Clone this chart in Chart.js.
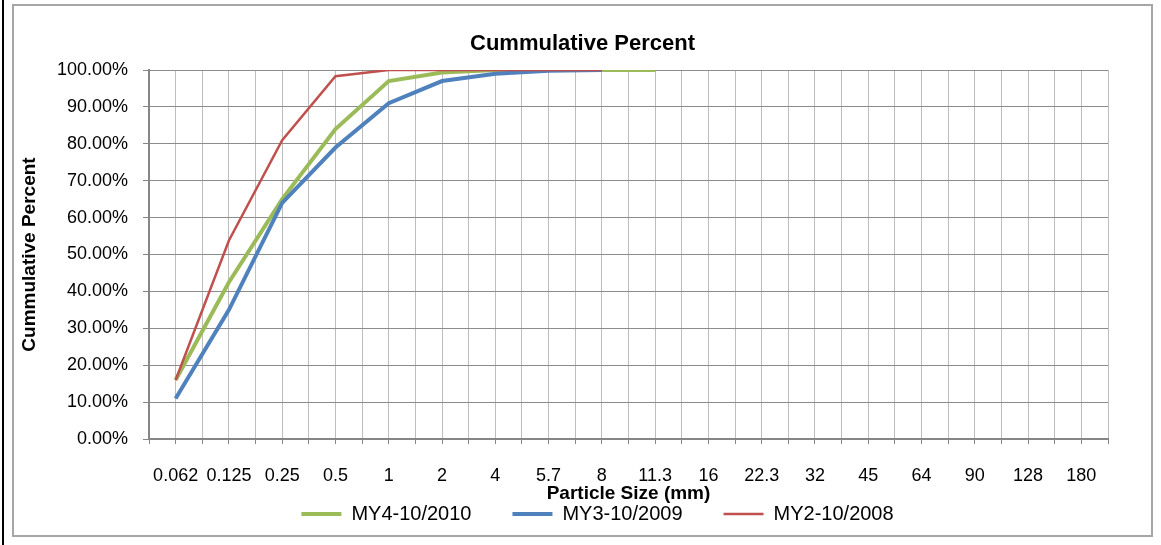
<!DOCTYPE html>
<html>
<head>
<meta charset="utf-8">
<script src="https://cdn.jsdelivr.net/npm/chart.js@4"></script>
<style>
  body{ margin:0; background:#fff; }
  #sheet-edge{ position:absolute; left:2px; top:0; width:2px; height:545px; background:#000; }
  #frame{ position:absolute; left:12px; top:4px; width:1137px; height:529px; border:2px solid #a6a6a6; background:#fff; }
  #frame canvas{ display:block; }
</style>
</head>
<body>
<div id="sheet-edge"></div>
<div id="frame"><canvas id="chart" width="1137" height="529"></canvas></div>
<script>
const sizes = ["0.062","0.125","0.25","0.5","1","2","4","5.7","8","11.3","16","22.3","32","45","64","90","128","180"];
const my4 = [16, 42.5, 65, 84, 97, 99.3, 100, 100, 100, 100];
const my3 = [11, 35, 64, 79, 91, 97, 99, 99.8, 100];
const my2 = [16, 53.8, 81, 98.3, 100, 100, 100, 100, 100];
const yTicks = [0, 10, 20, 30, 40, 50, 60, 70, 80, 90, 100];

const FONT = "'Liberation Sans', Arial, sans-serif";

function points(values){
  return values.map((v, i) => ({x: i, y: v}));
}

function series(label, values, color, width, order){
  return {
    label,
    data: points(values),
    borderColor: color,
    backgroundColor: color,
    borderWidth: width,
    pointRadius: 0,
    tension: 0,
    order
  };
}

// legend spacing needs a big label padding, so it is laid out small and its top pulled up
// (bottom stays put so the legend's own clip box still holds the items)
const legendNudge = {
  id: "legendNudge",
  afterLayout(chart){
    const lg = chart.legend;
    lg.top -= 42.4;
    lg.left += 15;
    lg.right += 15;
  }
};

const ctx = document.getElementById("chart").getContext("2d");
new Chart(ctx, {
  type: "line",
  data: {
    datasets: [
      series("MY4-10/2010", my4, "#9bbb59", 4, 3),
      series("MY3-10/2009", my3, "#4f81bd", 4, 2),
      series("MY2-10/2008", my2, "#c0504d", 2.5, 1)
    ]
  },
  plugins: [legendNudge],
  options: {
    responsive: false,
    animation: false,
    layout: { padding: { left: 0, right: 0, top: 0, bottom: 1.5 } },
    plugins: {
      title: {
        display: true,
        text: "Cummulative Percent",
        color: "#000",
        font: { family: FONT, size: 22, weight: "bold" },
        padding: { top: 24.8, bottom: 12.8 }
      },
      legend: {
        position: "bottom",
        maxHeight: 28.1,
        labels: {
          usePointStyle: true,
          pointStyle: "line",
          pointStyleWidth: 40,
          padding: 41,
          color: "#000",
          font: { family: FONT, size: 20 },
          sort: (a, b) => a.datasetIndex - b.datasetIndex
        }
      },
      tooltip: { enabled: false }
    },
    scales: {
      x: {
        type: "linear",
        min: -0.5,
        max: sizes.length - 0.5,
        afterBuildTicks: (scale) => {
          const ticks = [];
          sizes.forEach((s, i) => {
            ticks.push({value: i - 0.5});
            ticks.push({value: i});
          });
          ticks.push({value: sizes.length - 0.5});
          scale.ticks = ticks;
        },
        afterFit: (scale) => { scale.height = 66.4; },
        ticks: {
          autoSkip: false,
          maxRotation: 0,
          padding: 21,
          color: "#000",
          font: { family: FONT, size: 18 },
          callback: (v) => Number.isInteger(v) ? sizes[v] : ""
        },
        grid: { color: "#bdbdbd", lineWidth: 1, tickLength: 5, tickColor: "#868686" },
        border: { color: "#868686", width: 2 },
        title: {
          display: true,
          text: "Particle Size (mm)",
          color: "#000",
          font: { family: FONT, size: 19, weight: "bold" },
          padding: { top: 0, bottom: 0 }
        }
      },
      y: {
        min: 0,
        max: 100,
        afterBuildTicks: (scale) => { scale.ticks = yTicks.map(v => ({value: v})); },
        afterFit: (scale) => { scale.width = 135; },
        ticks: {
          padding: 15,
          color: "#000",
          font: { family: FONT, size: 18 },
          callback: (v) => v.toFixed(2) + "%"
        },
        grid: { color: "#8c8c8c", lineWidth: 1, tickLength: 6, tickColor: "#868686" },
        border: { color: "#868686", width: 2 },
        title: {
          display: true,
          text: "Cummulative Percent",
          color: "#000",
          font: { family: FONT, size: 19, weight: "bold" },
          padding: { top: 4.6, bottom: 0 }
        }
      },
      yPad: {
        position: "right",
        min: 0,
        max: 100,
        afterFit: (scale) => { scale.width = 43; },
        ticks: { display: false },
        grid: { display: false, drawTicks: false },
        border: { display: false }
      }
    }
  }
});
</script>
</body>
</html>
